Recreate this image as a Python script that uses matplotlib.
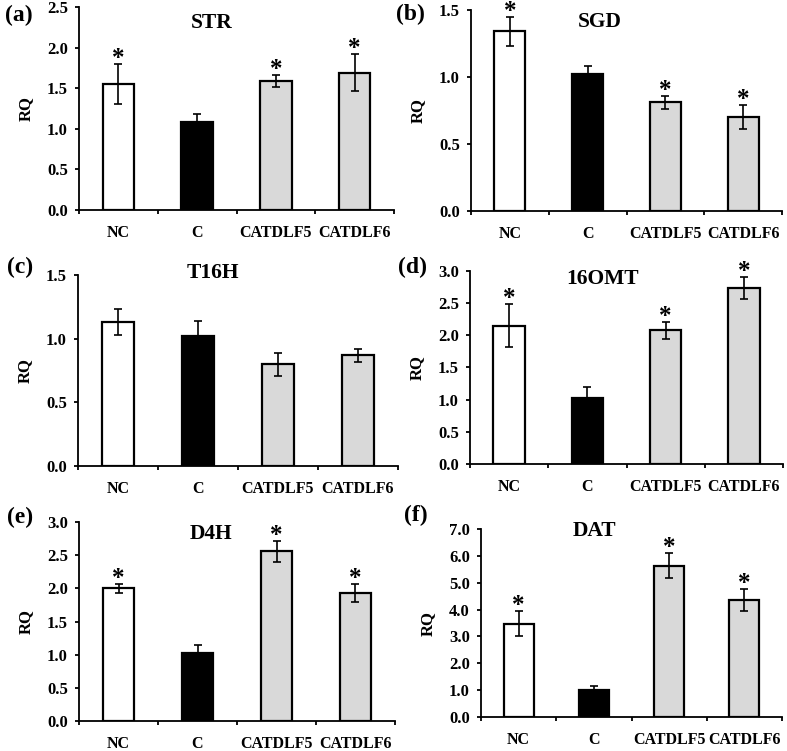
import matplotlib
matplotlib.use("Agg")
import matplotlib.pyplot as plt
import numpy as np

plt.rcParams['font.family'] = ['Liberation Serif', 'DejaVu Serif']
plt.rcParams['font.weight'] = 'bold'

# ---- data ----
categories = ['NC', 'C', 'CATDLF5', 'CATDLF6']
bar_colors = ['white', 'black', '#d9d9d9', '#d9d9d9']

genes = ['STR', 'SGD', 'T16H', '16OMT', 'D4H', 'DAT']
panel_tags = ['(a)', '(b)', '(c)', '(d)', '(e)', '(f)']

str_mean = [1.55, 1.08, 1.59, 1.69]
str_err = [0.25, 0.10, 0.07, 0.23]
sgd_mean = [1.34, 1.02, 0.81, 0.70]
sgd_err = [0.11, 0.06, 0.05, 0.09]
t16h_mean = [1.13, 1.02, 0.80, 0.87]
t16h_err = [0.10, 0.12, 0.09, 0.05]
omt_mean = [2.15, 1.02, 2.08, 2.73]
omt_err = [0.33, 0.17, 0.13, 0.17]
d4h_mean = [2.00, 1.02, 2.56, 1.93]
d4h_err = [0.07, 0.12, 0.16, 0.13]
dat_mean = [3.47, 1.02, 5.64, 4.36]
dat_err = [0.46, 0.12, 0.48, 0.41]

# significance marks (*)
str_sig = [1, 0, 1, 1]
sgd_sig = [1, 0, 1, 1]
t16h_sig = [0, 0, 0, 0]
omt_sig = [1, 0, 1, 1]
d4h_sig = [1, 0, 1, 1]
dat_sig = [1, 0, 1, 1]

y_max = [2.5, 1.5, 1.5, 3.0, 3.0, 7.0]
y_step = [0.5, 0.5, 0.5, 0.5, 0.5, 1.0]

means = [str_mean, sgd_mean, t16h_mean, omt_mean, d4h_mean, dat_mean]
errs = [str_err, sgd_err, t16h_err, omt_err, d4h_err, dat_err]
sigs = [str_sig, sgd_sig, t16h_sig, omt_sig, d4h_sig, dat_sig]

# ---- layout in pixels (left, right, top, bottom) ----
W, H = 787, 751
boxes = [(79, 394, 7, 210), (471, 782, 10, 211),
         (78, 398, 275, 466), (470, 783, 271, 464),
         (79, 395, 522, 721), (481, 782, 529, 717)]
title_pos = [(212, 23), (600, 22), (213, 273), (603, 279), (211, 534), (594, 531)]
tag_pos = [(19, 15), (410, 14), (20, 267), (412, 267), (20, 517), (416, 515)]

fig = plt.figure(figsize=(W / 100, H / 100), dpi=100)
x = np.arange(len(categories))

for i in range(6):
    l, r, t, b = boxes[i]
    ax = fig.add_axes([l / W, 1 - b / H, (r - l) / W, (b - t) / H])
    ax.bar(x, means[i], width=0.4, color=bar_colors, edgecolor='black',
           linewidth=1.6, zorder=2)
    ax.errorbar(x, means[i], yerr=errs[i], fmt='none', ecolor='black',
                elinewidth=1.2, capsize=3, capthick=1.2, zorder=3)
    for j in range(len(categories)):
        if sigs[i][j]:
            ax.annotate('*', (x[j], means[i][j] + errs[i][j]),
                        xytext=(0, 4), textcoords='offset points',
                        ha='center', va='center', fontsize=18,
                        fontweight='bold', annotation_clip=False)

    ax.set_xlim(-0.5, 3.5)
    ax.set_ylim(0, y_max[i])
    ticks = np.arange(0, y_max[i] + 1e-6, y_step[i])
    ax.set_yticks(ticks)
    ax.set_yticklabels([f'{v:.1f}' for v in ticks], fontsize=12,
                       fontweight='bold')
    ax.tick_params(axis='y', direction='out', length=3, width=1.3, pad=5)

    # ticks between categories, labels at centres
    ax.set_xticks(np.arange(-0.5, 4.0, 1.0))
    ax.set_xticklabels([])
    ax.tick_params(axis='x', which='major', direction='out', length=3,
                   width=1.3)
    ax.set_xticks(x, minor=True)
    ax.set_xticklabels(categories, minor=True, fontsize=11.5,
                       fontweight='bold')
    ax.tick_params(axis='x', which='minor', length=0, pad=11)

    for side in ['top', 'right']:
        ax.spines[side].set_visible(False)
    for side in ['left', 'bottom']:
        ax.spines[side].set_linewidth(1.3)

    ax.set_ylabel('RQ', fontsize=12, fontweight='bold')
    ax.yaxis.set_label_coords(-45 / (r - l), 0.5)

    tx, ty = title_pos[i]
    fig.text(tx / W, 1 - ty / H, genes[i], ha='center', va='center',
             fontsize=15.5, fontweight='bold')
    px, py = tag_pos[i]
    fig.text(px / W, 1 - py / H, panel_tags[i], ha='center', va='center',
             fontsize=17, fontweight='bold')

fig.savefig('out.png', dpi=100)
